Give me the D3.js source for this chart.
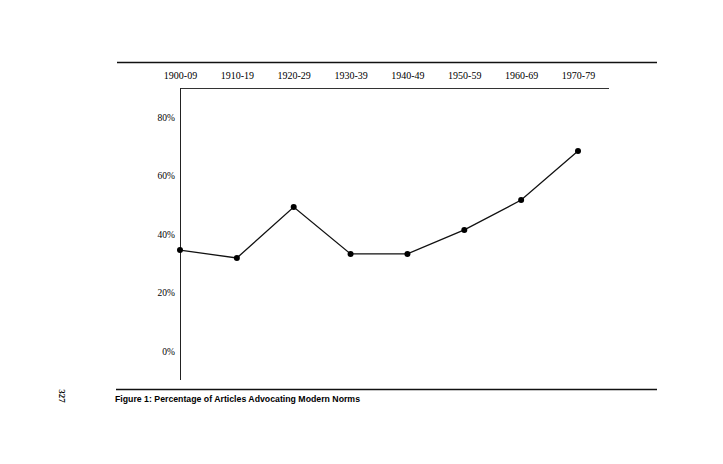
<!DOCTYPE html>
<html>
<head>
<meta charset="utf-8">
<script src="https://cdn.jsdelivr.net/npm/d3@7"></script>
<style>
  body { margin: 0; background: #fff; }
  .axis text { font-family: "Liberation Serif", "DejaVu Serif", serif; font-size: 9.5px; fill: #000; }
  .axis .domain { display: none; }
</style>
</head>
<body>
<div id="chart"></div>
<script>
// decades and share of articles advocating modern norms (%)
var decades = ["1900-09", "1910-19", "1920-29", "1930-39", "1940-49", "1950-59", "1960-69", "1970-79"];
var percents = [34.5, 31.8, 49.2, 33.2, 33.2, 41.4, 51.6, 68.4];
var yTicks = [0, 20, 40, 60, 80];

var width = 723, height = 464;

var svg = d3.select("#chart").append("svg")
    .attr("width", width)
    .attr("height", height);

var x = d3.scalePoint().domain(decades).range([180, 578]);
var y = d3.scaleLinear().domain([0, 80]).range([351, 117]);

var data = decades.map(function(d, i) { return { x: d, y: percents[i] }; });

// page rules
svg.append("line")
    .attr("x1", 117).attr("x2", 657).attr("y1", 62.5).attr("y2", 62.5)
    .attr("stroke", "#111").attr("stroke-width", 1.5);
svg.append("line")
    .attr("x1", 116).attr("x2", 657).attr("y1", 389.5).attr("y2", 389.5)
    .attr("stroke", "#111").attr("stroke-width", 1.5);

// frame lines of the plot
svg.append("line")
    .attr("x1", 180).attr("x2", 609).attr("y1", 88.5).attr("y2", 88.5)
    .attr("stroke", "#333").attr("stroke-width", 1);
svg.append("line")
    .attr("x1", 180.5).attr("x2", 180.5).attr("y1", 88).attr("y2", 380)
    .attr("stroke", "#222").attr("stroke-width", 1);

// decade labels along the top
var xAxisG = svg.append("g")
    .attr("class", "axis")
    .attr("transform", "translate(0,88)")
    .call(d3.axisTop(x).tickSize(0).tickPadding(9));
xAxisG.selectAll("text").attr("dy", "0em").attr("fill", "#000").style("font-size", "10px");

// percent labels
svg.append("g")
    .attr("class", "axis")
    .attr("transform", "translate(180,0)")
    .call(d3.axisLeft(y).tickValues(yTicks).tickSize(0).tickPadding(5)
        .tickFormat(function(d) { return d + "%"; }))
    .selectAll("text").attr("fill", "#000");

// the line
var valueline = d3.line()
    .x(function(d) { return x(d.x); })
    .y(function(d) { return y(d.y); });

svg.append("path")
    .attr("d", valueline(data))
    .attr("fill", "none")
    .attr("stroke", "#111")
    .attr("stroke-width", 1.3);

svg.append("g")
    .selectAll("circle").data(data).enter().append("circle")
    .attr("cx", function(d) { return x(d.x); })
    .attr("cy", function(d) { return y(d.y); })
    .attr("r", 3)
    .attr("fill", "#000");

// caption
svg.append("text")
    .attr("x", 115).attr("y", 402)
    .attr("textLength", 245)
    .attr("lengthAdjust", "spacingAndGlyphs")
    .style("font-family", "'Liberation Sans', Arial, sans-serif")
    .style("font-size", "9.5px")
    .style("font-weight", "bold")
    .text("Figure 1:  Percentage of Articles Advocating Modern Norms");

// page number, printed sideways
svg.append("text")
    .attr("transform", "translate(59,396) rotate(90)")
    .attr("text-anchor", "middle")
    .style("font-family", "'Liberation Serif', serif")
    .style("font-size", "9px")
    .style("font-weight", "bold")
    .text("327");
</script>
</body>
</html>
